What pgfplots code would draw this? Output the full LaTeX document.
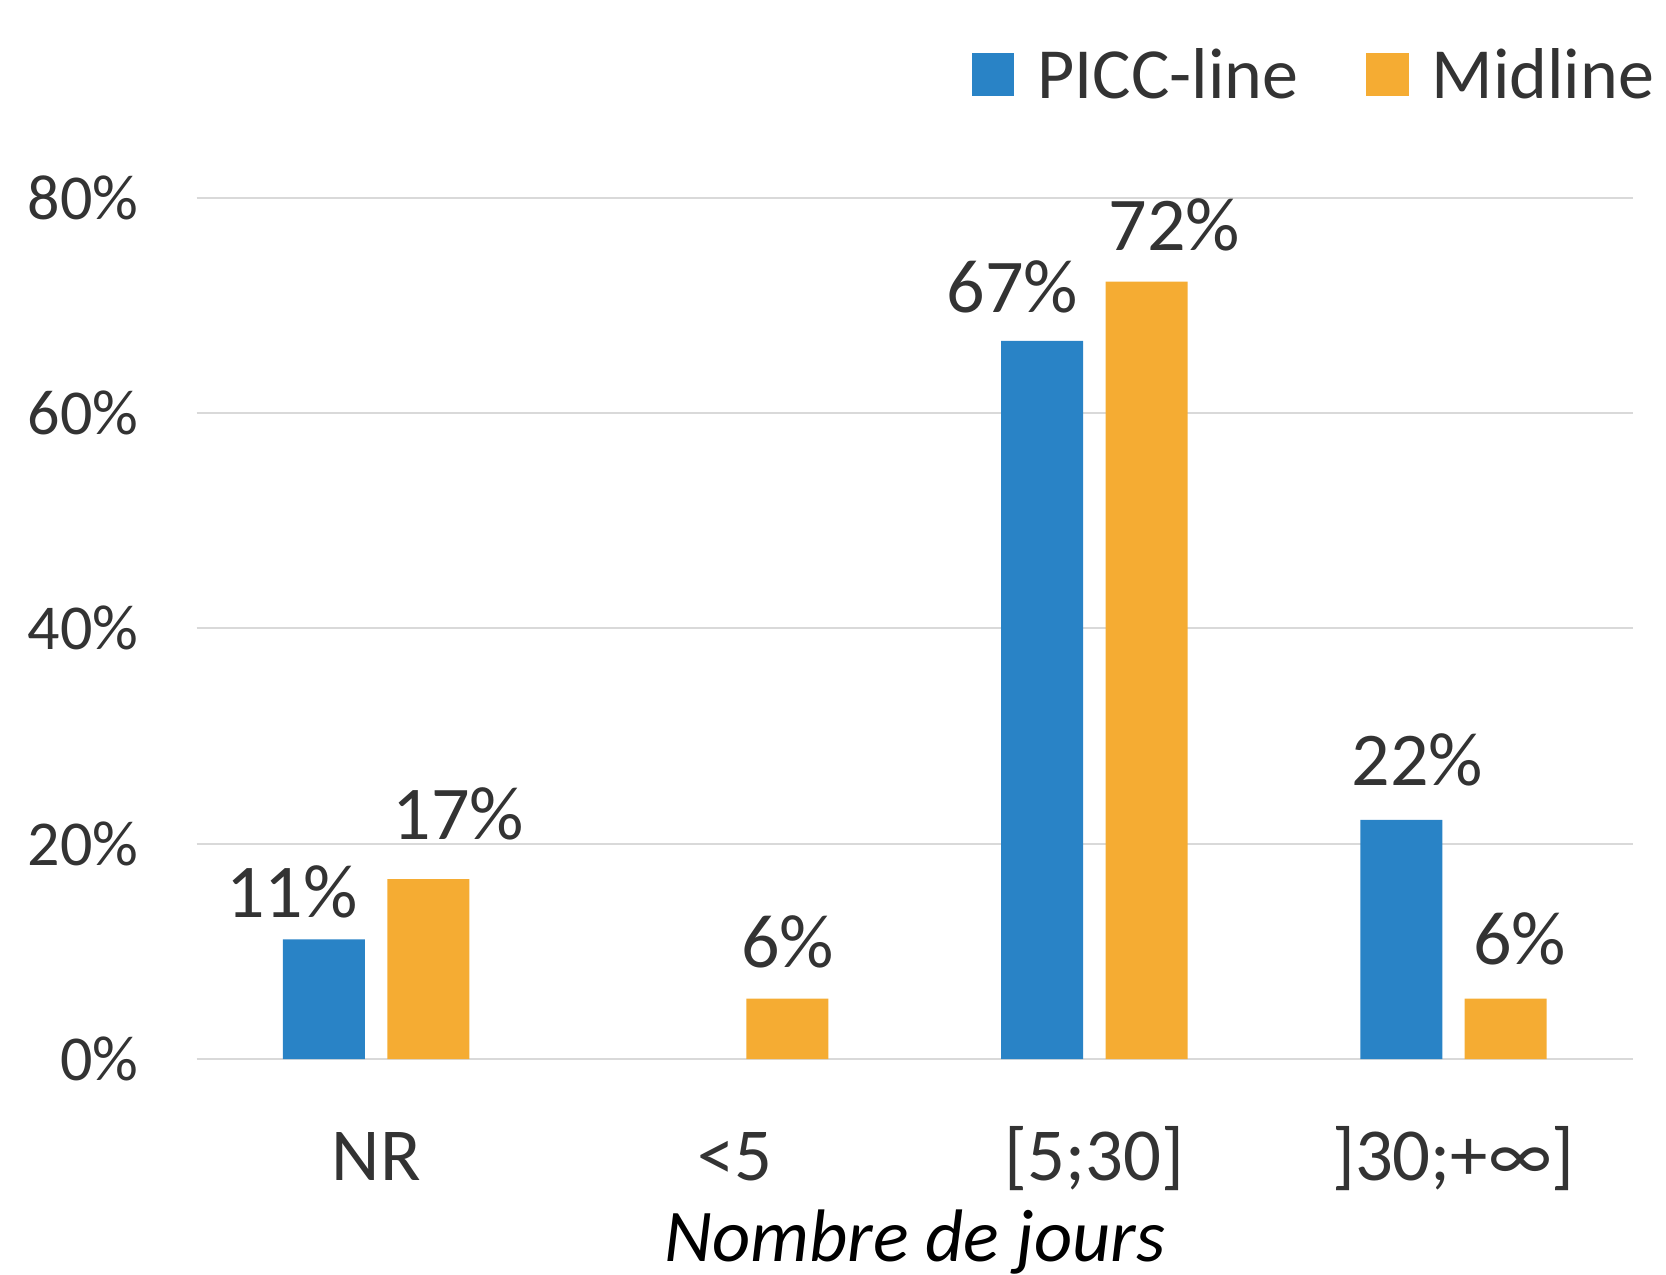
\documentclass[border=0pt]{standalone}
\usepackage{pgfplots}
\pgfplotsset{compat=1.18}
\usepackage{pgfplotstable}
\usepackage{fontspec}
\setmainfont{Carlito}
\definecolor{piccblue}{HTML}{2983C6}
\definecolor{midorange}{HTML}{F5AC33}
\definecolor{txtgray}{HTML}{333333}
\definecolor{gridgray}{HTML}{D9D9D9}

\pgfplotstableread{
x y lab dx dy
0 11.1 11 -8 5.5
2 66.7 67 -7.5 7
3 22.2 22 4 8.5
}\tabpicc

\pgfplotstableread{
x y lab dx dy
0 16.7 17 7.5 10
1 5.6 6 0 7.75
2 72.2 72 7 7.75
3 5.6 6 3.5 8.5
}\tabmid

\pgfplotsset{
  sqlegend/.style={legend image code/.code={\fill[##1] (0pt,-4.85pt) rectangle (10.6pt,5.75pt);}},
  lbl/.style={
    nodes near coords={\pgfplotspointmeta\%},
    point meta=explicit symbolic,
    visualization depends on={\thisrow{dx} \as \dx},
    visualization depends on={\thisrow{dy} \as \dy},
    every node near coord/.append style={anchor=base, inner sep=0pt, xshift=\dx pt, yshift=\dy pt,
      font=\fontsize{19}{19}\selectfont, text=txtgray},
  },
}

\begin{document}
\begin{tikzpicture}
\path[use as bounding box] (-49.15pt,-53.75pt) rectangle (367.35pt,264.75pt);
\begin{axis}[
  at={(0pt,0pt)}, anchor=south west,
  scale only axis, width=359.1pt, height=215.35pt,
  xmin=-0.5, xmax=3.5, ymin=0, ymax=80,
  clip=false,
  axis line style={draw=none},
  major tick length=0pt,
  xtick={0,1,2,3},
  xticklabels={NR,{<5},{[5;30]},{]30;+∞]}},
  ytick={0,20,40,60,80},
  yticklabels={0\%,20\%,40\%,60\%,80\%},
  ymajorgrids, grid style={gridgray, line width=0.5pt},
  yticklabel style={anchor=east, inner sep=0pt, xshift=-14.4pt, font=\fontsize{16}{16}\selectfont, text=txtgray},
  xticklabel style={anchor=base, inner sep=0pt, yshift=-30.25pt, font=\fontsize{18.7}{18.7}\selectfont, text=txtgray},
  xlabel={\itshape Nombre de jours},
  xlabel style={at={(axis description cs:0.5,0)}, anchor=base, inner sep=0pt, yshift=-50.5pt, font=\fontsize{18.6}{18.6}\selectfont, text=black},
  ybar=5.6pt, bar width=20.5pt,
  legend columns=2,
  legend style={at={(axis description cs:0.5398,1)}, anchor=west, yshift=30.3pt,
    draw=none, fill=none, inner sep=0pt, outer sep=0pt,
    font=\fontsize{18}{18}\selectfont, text=txtgray,
    nodes={inner sep=0pt},
    /tikz/every odd column/.append style={column sep=5.75pt},
    /tikz/every even column/.append style={column sep=17pt}},
]
\addplot[ybar, fill=piccblue, draw=none, lbl, sqlegend] table[x=x, y=y, meta=lab] {\tabpicc};
\addlegendentry{PICC-line}
\addplot[ybar, fill=midorange, draw=none, lbl, sqlegend] table[x=x, y=y, meta=lab] {\tabmid};
\addlegendentry{Midline}
\end{axis}
\end{tikzpicture}
\end{document}
